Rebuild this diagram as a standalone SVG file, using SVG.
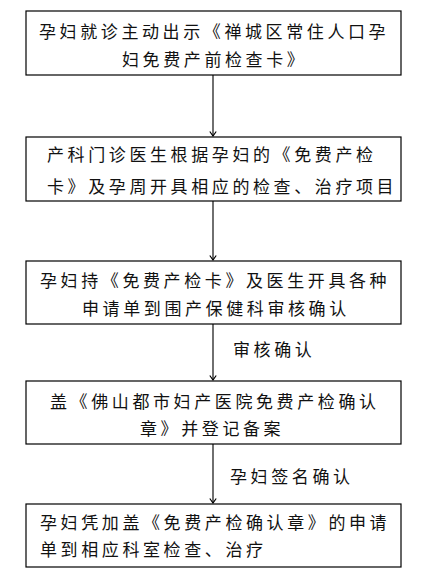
<svg xmlns="http://www.w3.org/2000/svg" width="425" height="576" viewBox="0 0 425 576">
<style>
.box{fill:#fff;stroke:#000;stroke-width:1.2}
.t{font-family:"Noto Sans CJK SC","Liberation Sans",sans-serif;font-size:17px;letter-spacing:3.6px;fill:#111}
.c{stroke:#222;stroke-width:1.3;fill:none}
</style>
<defs>
<marker id="ah" markerWidth="10" markerHeight="10" refX="5" refY="5" orient="auto" markerUnits="userSpaceOnUse">
<path d="M0.5,1.8 L5,5 L0.5,8.2" fill="none" stroke="#000" stroke-width="1.2"/>
</marker>
</defs>
<rect width="425" height="576" fill="#fff"/>
<g id="connectors">
<line class="c" x1="213" y1="75" x2="213" y2="136" marker-end="url(#ah)"/>
<line class="c" x1="213" y1="201" x2="213" y2="260" marker-end="url(#ah)"/>
<line class="c" x1="213" y1="324" x2="213" y2="380" marker-end="url(#ah)"/>
<line class="c" x1="213" y1="444" x2="213" y2="503" marker-end="url(#ah)"/>
<text class="t" x="233" y="356">审核确认</text>
<text class="t" x="230" y="483">孕妇签名确认</text>
</g>
<g id="n1">
<rect class="box" x="26" y="11" width="375" height="64"/>
<text class="t" x="39" y="38">孕妇就诊主动出示《禅城区常住人口孕</text>
<text class="t" x="122" y="66">妇免费产前检查卡》</text>
</g>
<g id="n2">
<rect class="box" x="26" y="137" width="375" height="64"/>
<text class="t" x="47" y="161">产科门诊医生根据孕妇的《免费产检</text>
<text class="t" x="47" y="193">卡》及孕周开具相应的检查、治疗项目</text>
</g>
<g id="n3">
<rect class="box" x="26" y="261" width="375" height="63"/>
<text class="t" x="40" y="287">孕妇持《免费产检卡》及医生开具各种</text>
<text class="t" x="82" y="315">申请单到围产保健科审核确认</text>
</g>
<g id="n4">
<rect class="box" x="26" y="381" width="375" height="63"/>
<text class="t" x="50" y="408">盖《佛山都市妇产医院免费产检确认</text>
<text class="t" x="140" y="435">章》并登记备案</text>
</g>
<g id="n5">
<rect class="box" x="26" y="504" width="375" height="63"/>
<text class="t" x="40" y="529">孕妇凭加盖《免费产检确认章》的申请</text>
<text class="t" x="40" y="556">单到相应科室检查、治疗</text>
</g>
</svg>
